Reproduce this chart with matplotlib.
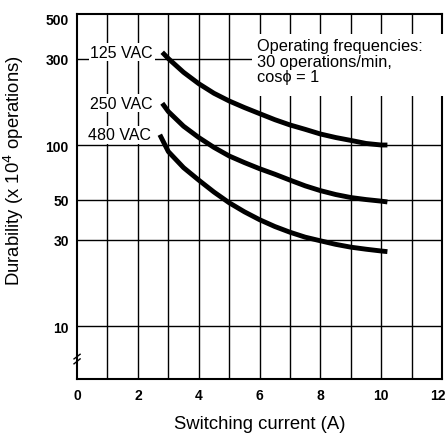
import matplotlib
matplotlib.use("Agg")
import matplotlib.pyplot as plt
import matplotlib.transforms as mtransforms
from matplotlib.patches import Rectangle

plt.rcParams['font.family'] = ['Liberation Sans', 'DejaVu Sans']

# durability curves (x in A, y in 10^4 operations)
x_125 = [2.80, 3.0, 3.5, 4.0, 4.5, 5.0, 5.5, 6.0, 6.5, 7.0, 7.5, 8.0, 8.5, 9.0, 9.5, 10.0, 10.2]
y_125 = [325, 300, 252, 218, 193, 175, 161, 149, 138, 129, 122, 115, 110, 106, 102, 100, 100]
x_250 = [2.80, 3.0, 3.5, 4.0, 4.5, 5.0, 5.5, 6.0, 6.5, 7.0, 7.5, 8.0, 8.5, 9.0, 9.5, 10.0, 10.2]
y_250 = [170, 153, 127, 110, 97, 87, 80, 74, 69, 64, 59.5, 56, 53.3, 51.3, 50, 49, 48.5]
x_480 = [2.72, 3.0, 3.5, 4.0, 4.5, 5.0, 5.5, 6.0, 6.5, 7.0, 7.5, 8.0, 8.5, 9.0, 9.5, 10.0, 10.2]
y_480 = [114, 92, 75, 64, 55, 48, 42.8, 38.7, 35.5, 33, 31, 29.6, 28.3, 27.3, 26.6, 26.0, 25.8]

series = [("125 VAC", x_125, y_125), ("250 VAC", x_250, y_250), ("480 VAC", x_480, y_480)]

x_ticks = [0, 2, 4, 6, 8, 10, 12]
y_ticks = [10, 30, 50, 100, 300, 500]
y_grid = [10, 30, 50, 100, 300]

fig = plt.figure(figsize=(4.48, 4.35), dpi=100)
ax = fig.add_axes([0.172, 0.126, 0.815, 0.84])
ax.set_yscale('log')
ax.set_xlim(0, 12)
ax.set_ylim(5.1, 530)

for xv in range(1, 12):
    ax.axvline(xv, color='black', lw=1.0, zorder=1)
for yv in y_grid:
    ax.axhline(yv, color='black', lw=1.0, zorder=1)

for name, xs, ys in series:
    ax.plot(xs, ys, color='black', lw=3.5, solid_capstyle='butt',
            solid_joinstyle='round', zorder=3)
    ax.text(xs[0] - 0.3, ys[0], name, ha='right', va='center', fontsize=11.5, zorder=4,
            bbox=dict(facecolor='white', edgecolor='none', pad=1))

# white panel behind the note (covers grid and right spine, as in the original)
ax.add_patch(Rectangle((0.479, 0.775), 0.53, 0.17, transform=ax.transAxes,
                       facecolor='white', edgecolor='none', zorder=3.5, clip_on=False))
ax.text(5.9, 390, "Operating frequencies:\n30 operations/min,\ncos\u03d5 = 1",
        ha='left', va='top', fontsize=11.8, linespacing=1.05, zorder=4)

ax.set_xticks(x_ticks)
ax.set_xticklabels([str(v) for v in x_ticks], fontsize=10, fontweight='bold')
ax.set_yticks(y_ticks)
ax.set_yticklabels([str(v) for v in y_ticks], fontsize=10, fontweight='bold')
ax.yaxis.set_minor_locator(matplotlib.ticker.NullLocator())
ax.tick_params(length=0, pad=6)
# last x label sits right at the edge, nudge it in a little
last = ax.get_xticklabels()[-1]
last.set_transform(last.get_transform() + mtransforms.ScaledTranslation(-4/100, 0, fig.dpi_scale_trans))

for s in ax.spines.values():
    s.set_linewidth(1.5)

# axis break mark on the y-axis
ax.plot([-0.1, 0.1], [6.6, 7.0], color='black', lw=1, clip_on=False, zorder=5)
ax.plot([-0.1, 0.1], [6.2, 6.6], color='black', lw=1, clip_on=False, zorder=5)

ax.set_xlabel("Switching current (A)", fontsize=13.3)
ax.xaxis.set_label_coords(0.5, -0.097)
ax.set_ylabel("Durability (x 10$^4$ operations)", fontsize=13.3)
ax.yaxis.set_label_coords(-0.14, 0.575)

fig.savefig("out.png", dpi=100)
